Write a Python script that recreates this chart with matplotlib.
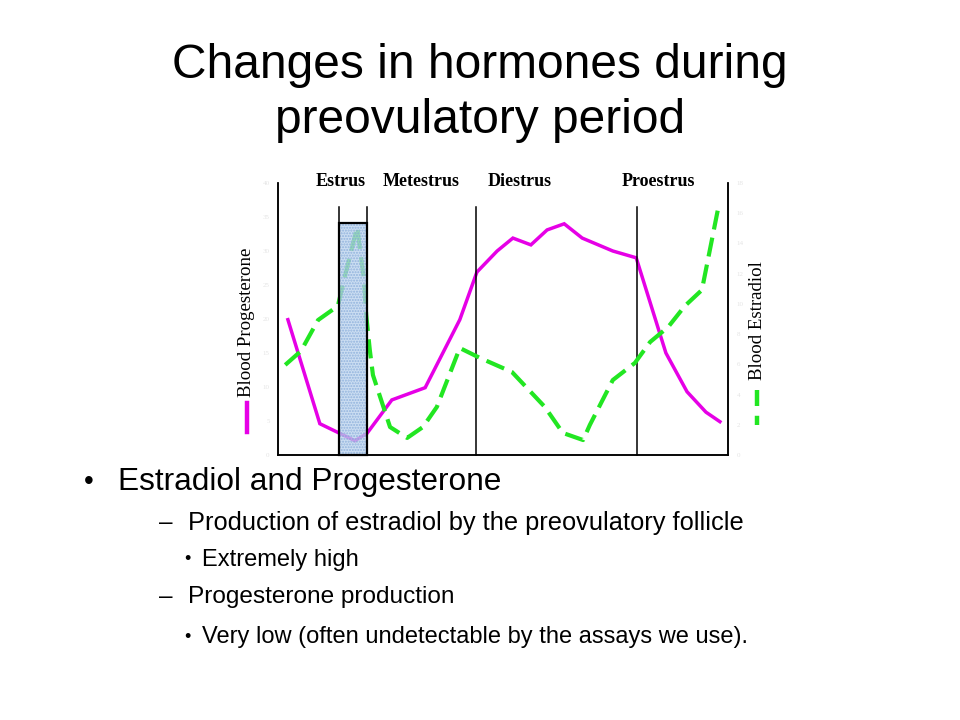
import matplotlib
matplotlib.use("Agg")
import matplotlib.pyplot as plt
from matplotlib.patches import Rectangle
from matplotlib.lines import Line2D

# ---- data ----
prog_x = [2.2, 9.3, 17.1, 19.8, 25.3, 32.7, 40.4, 44.2, 48.7, 52.2, 56.2, 59.8,
          63.6, 67.6, 74.4, 79.6, 86.2, 90.9, 95.1, 98.2]
prog_y = [19.9, 4.6, 2.1, 3.2, 8.1, 9.9, 19.9, 26.9, 30.0, 31.9, 30.9, 33.1,
          34.0, 31.9, 30.0, 29.0, 15.0, 9.3, 6.3, 4.9]

estr_x = [1.6, 5.1, 8.9, 13.3, 15.1, 17.6, 19.1, 19.6, 20.4, 21.1, 22.7, 24.9,
          28.7, 32.2, 35.3, 40.4, 44.9, 52.0, 59.3, 63.3, 67.8, 69.3, 74.4,
          79.3, 82.7, 86.7, 90.4, 94.2, 98.0]
estr_y = [5.96, 6.88, 8.93, 9.86, 12.11, 15.09, 11.58, 9.26, 6.95, 5.29, 3.84,
          1.85, 1.13, 1.85, 3.18, 7.08, 6.42, 5.49, 3.18, 1.46, 0.99, 1.99,
          4.96, 6.09, 7.48, 8.47, 9.86, 10.92, 16.61]

phase_names = ["Estrus", "Metestrus", "Diestrus", "Proestrus"]
phase_label_x = [14.0, 31.8, 53.8, 84.5]
phase_bounds = [13.6, 19.8, 44.0, 79.8]
estrus_span = (13.6, 19.8)
estrus_top = 34.1
divider_top = 36.5

left_ticks = [0, 5, 10, 15, 20, 25, 30, 35, 40]
right_ticks = [0, 2, 4, 6, 8, 10, 12, 14, 16, 18]

title = "Changes in hormones during\npreovulatory period"
bullets = [
    (0, "Estradiol and Progesterone"),
    (1, "Production of estradiol by the preovulatory follicle"),
    (2, "Extremely high"),
    (1, "Progesterone production"),
    (2, "Very low (often undetectable by the assays we use)."),
]

MAG = "#e600e6"
GRN = "#22e622"

fig = plt.figure(figsize=(9.6, 7.2), dpi=100)
fig.patch.set_facecolor("white")

W, H = 960.0, 720.0
def fx(px):
    return px / W
def fy(py):
    return 1 - py / H

ax = fig.add_axes([fx(278), fy(455), 450 / W, 272 / H])
ax.set_xlim(0, 100)
ax.set_ylim(0, 40)
ax2 = ax.twinx()
ax2.set_ylim(0, 18)

for a in (ax, ax2):
    a.spines["top"].set_visible(False)
    for s in ("left", "right", "bottom"):
        a.spines[s].set_linewidth(1.1)
        a.spines[s].set_color("black")
ax.set_xticks([])
ax.set_yticks(left_ticks)
ax.set_yticklabels([str(t) for t in left_ticks], fontsize=5, color="#e4e4e4",
                   family="Liberation Serif")
ax.tick_params(axis="y", length=0, pad=6)
ax2.set_yticks(right_ticks)
ax2.set_yticklabels([str(t) for t in right_ticks], fontsize=5, color="#e4e4e4",
                    family="Liberation Serif")
ax2.tick_params(axis="y", length=0, pad=6)

# lines
ax.plot(prog_x, prog_y, color=MAG, lw=2.5, solid_joinstyle="miter", zorder=3)
ax2.plot(estr_x, estr_y, color=GRN, lw=3.0, dashes=(4.6, 2.0), zorder=3)

# phase dividers
for b in phase_bounds:
    ax.plot([b, b], [0, divider_top], color="black", lw=1.1, zorder=5, clip_on=False)

# estrus shaded box
x0, x1 = estrus_span
ax2.add_patch(Rectangle((x0, 0), x1 - x0, estrus_top * 18 / 40,
                        facecolor="#bcd3ee", alpha=0.75, edgecolor="#7fa5d6",
                        hatch="......", lw=0, zorder=4))
ax2.add_patch(Rectangle((x0, 0), x1 - x0, estrus_top * 18 / 40,
                        facecolor="none", edgecolor="black", lw=1.6, zorder=6,
                        clip_on=False))

# phase labels
for name, lx in zip(phase_names, phase_label_x):
    fig.text(fx(278 + lx * 4.5), fy(182), name, ha="center", va="center",
             fontsize=13, fontweight="bold", family="Liberation Serif")

# axis labels + legend keys
fig.text(fx(247), fy(322), "Blood Progesterone", rotation=90, ha="center",
         va="center", fontsize=13.6, family="Liberation Serif")
fig.add_artist(Line2D([fx(247), fx(247)], [fy(403), fy(432)], color=MAG, lw=3.2))
fig.text(fx(757), fy(321), "Blood Estradiol", rotation=90, ha="center",
         va="center", fontsize=13.6, family="Liberation Serif")
fig.add_artist(Line2D([fx(757), fx(757)], [fy(390), fy(425)], color=GRN, lw=3.2,
                      dashes=(3.6, 2.2)))

# title
fig.text(0.5, fy(93), title, ha="center", va="center", fontsize=34.5,
         family="Liberation Sans", linespacing=1.31)

# bullets
rows = [(482, 22.8), (523, 18.3), (560, 17.0), (597, 17.6), (637, 17.0)]
for (lvl, txt), (yy, fs) in zip(bullets, rows):
    if lvl == 0:
        fig.text(fx(84), fy(yy), "\u2022", ha="left", va="center", fontsize=20,
                 family="Liberation Sans")
        fig.text(fx(118), fy(yy), txt, ha="left", va="center", fontsize=fs,
                 family="Liberation Sans")
    elif lvl == 1:
        fig.text(fx(159), fy(yy), "\u2013", ha="left", va="center", fontsize=17.5,
                 family="Liberation Sans")
        fig.text(fx(188), fy(yy), txt, ha="left", va="center", fontsize=fs,
                 family="Liberation Sans")
    else:
        fig.text(fx(184), fy(yy), "\u2022", ha="left", va="center", fontsize=13,
                 family="Liberation Sans")
        fig.text(fx(202), fy(yy), txt, ha="left", va="center", fontsize=fs,
                 family="Liberation Sans")

fig.savefig("out.png", dpi=100)
